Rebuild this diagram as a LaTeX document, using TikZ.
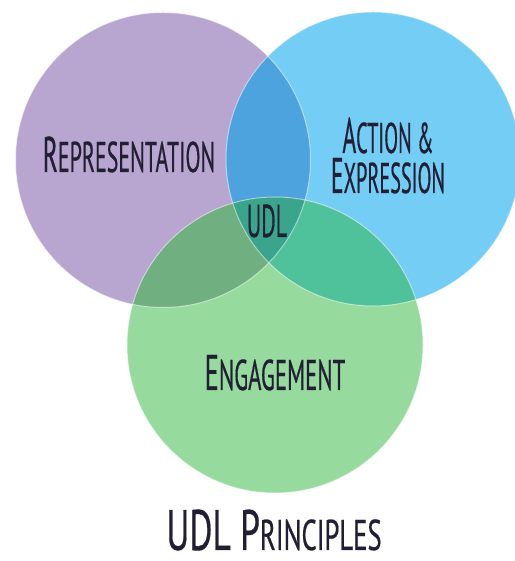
\documentclass[tikz,border=0pt]{standalone}
\usepackage{fontspec}
\setmainfont{PT Sans}
\newfontfamily\lblfont{PT Sans}[FakeBold=0.6]
\definecolor{cpur}{HTML}{B8A6D0}
\definecolor{cblu}{HTML}{74CDF5}
\definecolor{cgrn}{HTML}{97DA9E}
\definecolor{cpb}{HTML}{4CA3DD}
\definecolor{cpg}{HTML}{70AF80}
\definecolor{cbg}{HTML}{4FC29B}
\definecolor{call}{HTML}{3AA58C}
\definecolor{ink}{HTML}{221E33}
\newcommand\fsc[2]{{\fontsize{50}{50}\selectfont #1}{\fontsize{43}{43}\selectfont #2}}
\tikzset{
  lbl/.style={text=ink, inner sep=0pt, anchor=base, font=\lblfont},
  edge/.style={draw=white, draw opacity=0.5, line width=1pt}
}
\begin{document}
\begin{tikzpicture}[x=1pt,y=1pt]
\useasboundingbox (0,0) rectangle (514,561);
\fill[white] (0,0) rectangle (514,561);
\def\P{(163,401) circle (147.5)}
\def\B{(373,402) circle (147)}
\def\G{(275,216) circle (148)}
\fill[cpur] \P;
\fill[cblu] \B;
\fill[cgrn] \G;
\begin{scope}\clip \P; \fill[cpb] \B; \end{scope}
\begin{scope}\clip \P; \fill[cpg] \G; \end{scope}
\begin{scope}\clip \B; \fill[cbg] \G; \end{scope}
\begin{scope}\clip \P; \clip \B; \fill[call] \G; \end{scope}
\draw[edge] \P; \draw[edge] \B; \draw[edge] \G;
\node[lbl, xscale=0.51] (rep) at (129,389) {\fsc{R}{EPRESENTATION}};
\node[lbl, xscale=0.47] (act) at (388,408) {\fsc{A}{CTION \&}};
\node[lbl, xscale=0.47] (exp) at (388,368) {\fsc{E}{XPRESSION}};
\node[lbl, xscale=0.48] (udl) at (267,324) {{\fontsize{46}{46}\selectfont UDL}};
\node[lbl, xscale=0.53] (eng) at (275,171) {\fsc{E}{NGAGEMENT}};
\node[lbl, xscale=0.62] (tit) at (274,11) {{\fontsize{57}{57}\selectfont UDL P}{\fontsize{43}{43}\selectfont RINCIPLES}};
\end{tikzpicture}
\end{document}
